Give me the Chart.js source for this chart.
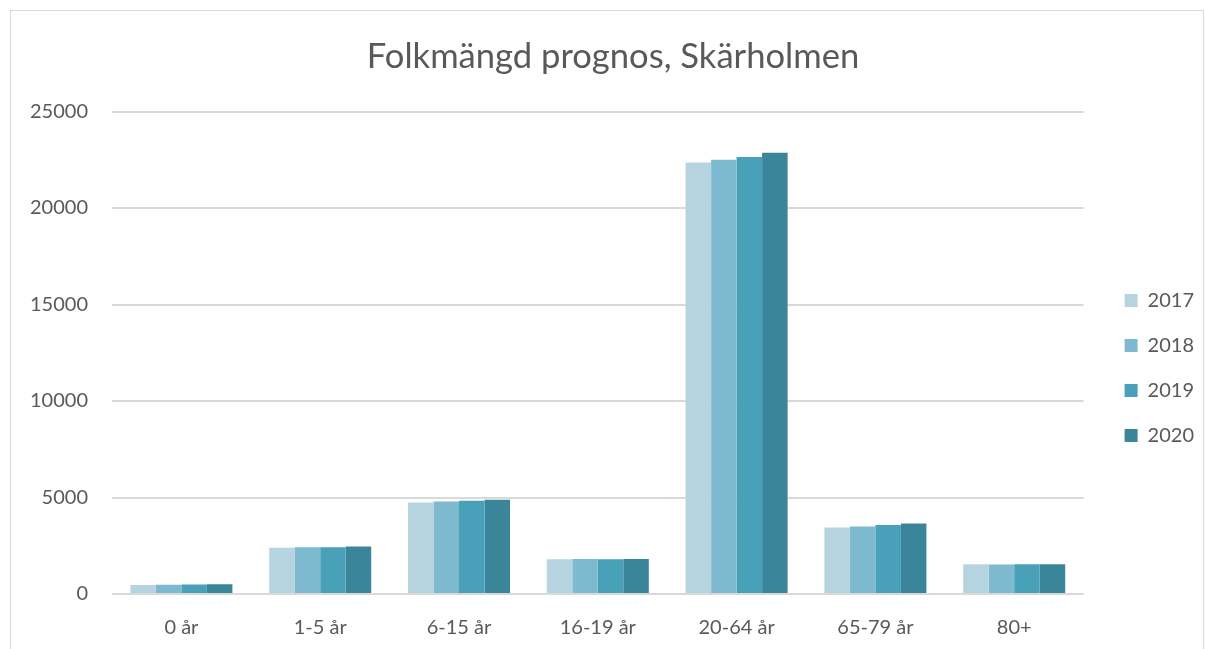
<!DOCTYPE html>
<html>
<head>
<meta charset="utf-8">
<script src="https://cdn.jsdelivr.net/npm/chart.js@4"></script>
<style>
    body { margin: 0; background: #fff; }
    #wrap { position: absolute; left: 0; top: 0; width: 1205px; height: 649px; }
    #frame { position: absolute; left: 10px; top: 10px; width: 1192px; height: 660px; border: 1px solid #d9d9d9; }
</style>
</head>
<body>
<div id="frame"></div>
<div id="wrap"><canvas id="chart" width="1205" height="649"></canvas></div>
<script>
// Folkmängd prognos per åldersgrupp
const categories = ['0 år', '1-5 år', '6-15 år', '16-19 år', '20-64 år', '65-79 år', '80+'];
const years = ['2017', '2018', '2019', '2020'];
const values2017 = [470, 2400, 4740, 1800, 22360, 3440, 1540];
const values2018 = [480, 2420, 4790, 1810, 22500, 3500, 1530];
const values2019 = [490, 2420, 4830, 1800, 22640, 3570, 1540];
const values2020 = [510, 2460, 4880, 1810, 22860, 3650, 1540];
const yTicks = [0, 5000, 10000, 15000, 20000, 25000];

const colors = ['#b6d4e0', '#7db9cf', '#48a0b9', '#3a8599'];
const seriesValues = [values2017, values2018, values2019, values2020];

const FONT = "Lato, 'Open Sans', sans-serif";
const TEXT = '#595959';

// Excel placerar titel, legend och x-etiketter lite annorlunda, justera efter layout
const nudge = {
    id: 'nudge',
    afterLayout(chart) {
        const lg = chart.legend;
        if (lg) {
            lg.left += 16; lg.right += 16;
            lg.top += 35; lg.bottom += 35;
        }
        const t = chart.titleBlock;
        if (t) { t.left += 9; t.right += 9; }
        const x = chart.scales.x;
        if (x) { x.top += 9; x.bottom += 9; }
    }
};

const ctx = document.getElementById('chart').getContext('2d');
new Chart(ctx, {
    type: 'bar',
    data: {
        labels: categories,
        datasets: years.map((y, i) => ({
            label: y,
            data: seriesValues[i],
            backgroundColor: colors[i],
            borderWidth: 0,
            categoryPercentage: 0.735,
            barPercentage: 1.0,
        }))
    },
    options: {
        responsive: false,
        animation: false,
        layout: { padding: { left: 20, right: 17, top: 22, bottom: 5 } },
        plugins: {
            title: {
                display: true,
                text: 'Folkmängd prognos, Skärholmen',
                color: TEXT,
                font: { family: FONT, size: 34.6, weight: 'normal' },
                padding: { top: 14, bottom: 34 }
            },
            legend: {
                position: 'right',
                labels: {
                    color: TEXT,
                    font: { family: FONT, size: 20 },
                    boxWidth: 13,
                    boxHeight: 13,
                    padding: 25,
                }
            },
            tooltip: { enabled: false }
        },
        scales: {
            x: {
                grid: { display: false, drawTicks: false },
                border: { display: false },
                ticks: { color: TEXT, font: { family: FONT, size: 20 }, padding: 13 }
            },
            y: {
                min: 0,
                max: 25000,
                afterBuildTicks: axis => { axis.ticks = yTicks.map(v => ({ value: v })); },
                afterFit: axis => { axis.width = 92; },
                grid: { color: '#d9d9d9', lineWidth: 2, drawTicks: false },
                border: { display: false },
                ticks: {
                    color: TEXT,
                    font: { family: FONT, size: 20 },
                    padding: 24,
                    callback: v => String(v)
                }
            }
        }
    },
    plugins: [nudge]
});
</script>
</body>
</html>
